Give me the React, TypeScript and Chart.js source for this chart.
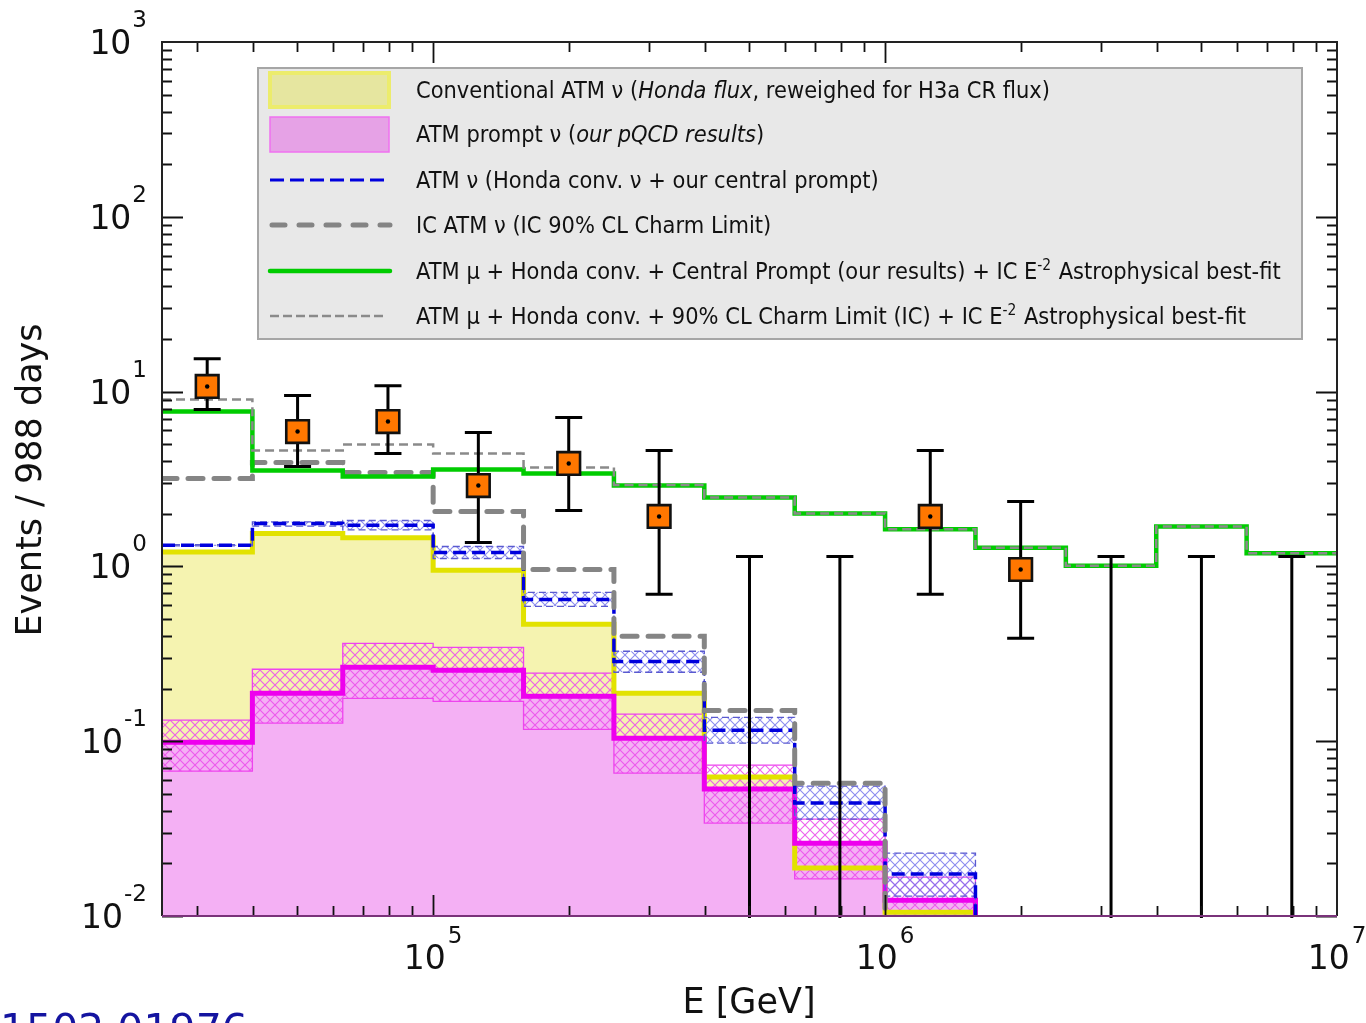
import React, { useEffect, useRef } from 'react';
import { Chart, registerables } from 'chart.js';

Chart.register(...registerables);

// ---- data ----
// bin edges in GeV (0.2-decade bins from 10^4.4 to 10^7)
const binEdges = [25119, 39811, 63096, 100000, 158489, 251189, 398107, 630957, 1000000, 1584893, 2511886, 3981072, 6309573, 10000000];

const conventional = [1.21, 1.54, 1.46, 0.95, 0.466, 0.188, 0.0623, 0.0188, 0.0105, 0, 0, 0, 0];
const promptCentral = [0.0987, 0.188, 0.265, 0.255, 0.181, 0.104, 0.0532, 0.0261, 0.0123, 0, 0, 0, 0];
const promptUpper = [0.132, 0.258, 0.363, 0.344, 0.245, 0.143, 0.0729, 0.0358, 0.0167, 0, 0, 0, 0];
const promptLower = [0.0674, 0.127, 0.176, 0.169, 0.117, 0.0656, 0.034, 0.0163, 0.009, 0, 0, 0, 0];
const atmNuCentral = [1.32, 1.76, 1.72, 1.2, 0.647, 0.286, 0.1156, 0.0443, 0.0174, 0, 0, 0, 0];
const atmNuUpper = [1.33, 1.8, 1.83, 1.3, 0.71, 0.327, 0.137, 0.0553, 0.0229, 0, 0, 0, 0];
const atmNuLower = [1.31, 1.7, 1.62, 1.11, 0.591, 0.248, 0.0975, 0.0358, 0.013, 0, 0, 0, 0];
const icAtmNu = [3.18, 3.93, 3.45, 2.06, 0.96, 0.398, 0.15, 0.0575, 0, 0, 0, 0, 0];
const totalCentral = [7.69, 3.54, 3.27, 3.58, 3.4, 2.9, 2.48, 2.01, 1.63, 1.28, 1.01, 1.69, 1.19];
const totalCharmLimit = [9.0, 4.6, 4.98, 4.42, 3.68, 2.92, 2.48, 2.01, 1.63, 1.28, 1.01, 1.69, 1.19];

const dataEnergy = [31623, 50119, 79433, 125893, 199526, 316228, 501187, 794328, 1258925, 1995262, 3162278, 5011872, 7943282];
const dataEvents = [10.7, 5.91, 6.74, 2.9, 3.88, 1.93, 0, 0, 1.93, 0.96, 0, 0, 0];
const dataErrHigh = [15.4, 9.49, 10.8, 5.83, 7.1, 4.6, 1.14, 1.14, 4.6, 2.35, 1.14, 1.14, 1.14];
const dataErrLow = [7.89, 3.73, 4.42, 1.37, 2.09, 0.692, 0, 0, 0.692, 0.388, 0, 0, 0];

const xTickExponents = [5, 6, 7];
const yTickExponents = [-2, -1, 0, 1, 2, 3];

const xTitle = 'E [GeV]';
const yTitle = 'Events / 988 days';
const footnote = '1502.01976';

type Seg = { t: string; it?: boolean; sup?: boolean };
const legendRows: Seg[][] = [
  [{ t: 'Conventional ATM \u03bd (' }, { t: 'Honda flux', it: true }, { t: ', reweighed for H3a CR flux)' }],
  [{ t: 'ATM prompt \u03bd (' }, { t: 'our pQCD results', it: true }, { t: ')' }],
  [{ t: 'ATM \u03bd (Honda conv. \u03bd + our central prompt)' }],
  [{ t: 'IC ATM \u03bd (IC 90% CL Charm Limit)' }],
  [{ t: 'ATM \u00b5 + Honda conv. + Central Prompt (our results) + IC E' }, { t: '-2', sup: true }, { t: ' Astrophysical best-fit' }],
  [{ t: 'ATM \u00b5 + Honda conv. + 90% CL Charm Limit (IC) + IC E' }, { t: '-2', sup: true }, { t: ' Astrophysical best-fit' }],
];

// ---- helpers ----
const ZERO_LEVEL = 1e-4; // empty bins drawn below the log axis floor

function toSteps(values: number[]) {
  // points at bin edges; with stepped: 'before' each value holds until the next edge
  const pts: { x: number; y: number }[] = [];
  for (let i = 0; i < values.length; i++) {
    if (values[i] > 0) pts.push({ x: binEdges[i], y: values[i] });
    else {
      pts.push({ x: binEdges[i], y: ZERO_LEVEL });
      return pts;
    }
  }
  pts.push({ x: binEdges[values.length], y: values[values.length - 1] });
  return pts;
}

function hatch(color: string) {
  const c = document.createElement('canvas');
  c.width = 10;
  c.height = 10;
  const g = c.getContext('2d')!;
  g.strokeStyle = color;
  g.lineWidth = 1.1;
  g.beginPath();
  g.moveTo(-1, -1);
  g.lineTo(11, 11);
  g.moveTo(11, -1);
  g.lineTo(-1, 11);
  g.stroke();
  return g.createPattern(c, 'repeat')!;
}

const FONT = '"DejaVu Sans", sans-serif';
const LFONT = '"DejaVu Sans", sans-serif';

function drawErrorBars(chart: any) {
  const { ctx, chartArea } = chart;
  const xs = chart.scales.x;
  const ys = chart.scales.y;
  ctx.save();
  ctx.strokeStyle = '#000';
  ctx.lineWidth = 3;
  ctx.beginPath();
  ctx.rect(chartArea.left, chartArea.top, chartArea.right - chartArea.left, chartArea.bottom - chartArea.top + 2);
  ctx.clip();
  for (let i = 0; i < dataEnergy.length; i++) {
    const px = xs.getPixelForValue(dataEnergy[i]);
    const top = ys.getPixelForValue(dataErrHigh[i]);
    const bot = dataErrLow[i] > 0 ? ys.getPixelForValue(dataErrLow[i]) : chartArea.bottom + 2;
    ctx.beginPath();
    ctx.moveTo(px, top);
    ctx.lineTo(px, bot);
    ctx.moveTo(px - 13.5, top);
    ctx.lineTo(px + 13.5, top);
    if (dataErrLow[i] > 0) {
      ctx.moveTo(px - 13.5, bot);
      ctx.lineTo(px + 13.5, bot);
    }
    ctx.stroke();
  }
  ctx.restore();
}

function drawFrame(chart: any) {
  const { ctx, chartArea } = chart;
  const { left, right, top, bottom } = chartArea;
  const xs = chart.scales.x;
  const ys = chart.scales.y;
  ctx.save();
  ctx.strokeStyle = '#111';
  ctx.lineWidth = 1.8;
  for (let e = yTickExponents[0]; e < yTickExponents[yTickExponents.length - 1]; e++) {
    for (let m = 1; m <= 9; m++) {
      const v = m * Math.pow(10, e);
      const py = Math.round(ys.getPixelForValue(v)) + 0.5;
      const len = m === 1 ? 21 : 10;
      ctx.beginPath();
      ctx.moveTo(left, py);
      ctx.lineTo(left + len, py);
      ctx.moveTo(right, py);
      ctx.lineTo(right - len, py);
      ctx.stroke();
    }
  }
  for (let e = 4; e < 7; e++) {
    for (let m = 1; m <= 9; m++) {
      const v = m * Math.pow(10, e);
      if (v <= xs.min || v >= xs.max) continue;
      const px = Math.round(xs.getPixelForValue(v)) + 0.5;
      const len = m === 1 ? 21 : 10;
      ctx.beginPath();
      ctx.moveTo(px, top);
      ctx.lineTo(px, top + len);
      ctx.moveTo(px, bottom);
      ctx.lineTo(px, bottom - len);
      ctx.stroke();
    }
  }
  ctx.lineWidth = 2;
  ctx.strokeStyle = '#222';
  ctx.beginPath();
  ctx.moveTo(left, bottom);
  ctx.lineTo(left, top);
  ctx.lineTo(right, top);
  ctx.lineTo(right, bottom);
  ctx.stroke();
  ctx.strokeStyle = '#7a327a';
  ctx.beginPath();
  ctx.moveTo(left, bottom);
  ctx.lineTo(right, bottom);
  ctx.stroke();
  ctx.restore();
}

function setLegendFont(ctx: any, size: number, italic: boolean) {
  ctx.font = `${italic ? 'italic ' : ''}${size}px ${LFONT}`;
}

function richWidth(ctx: CanvasRenderingContext2D, segs: Seg[], size: number) {
  let w = 0;
  for (const s of segs) {
    setLegendFont(ctx, s.sup ? size * 0.66 : size, !!s.it);
    w += ctx.measureText(s.t).width + (s.sup ? 1 : 0);
  }
  return w;
}

function drawRich(ctx: CanvasRenderingContext2D, segs: Seg[], x: number, y: number, size: number) {
  let cx = x;
  for (const s of segs) {
    const fs = s.sup ? size * 0.66 : size;
    setLegendFont(ctx, fs, !!s.it);
    ctx.fillText(s.t, cx, s.sup ? y - size * 0.42 : y);
    cx += ctx.measureText(s.t).width + (s.sup ? 1 : 0);
  }
  return cx - x;
}

function drawLabels(chart: any) {
  const { ctx, chartArea } = chart;
  const xs = chart.scales.x;
  const ys = chart.scales.y;
  ctx.save();
  ctx.fillStyle = '#111';
  ctx.textBaseline = 'alphabetic';
  ctx.textAlign = 'left';
  for (const e of yTickExponents) {
    const py = ys.getPixelForValue(Math.pow(10, e));
    ctx.font = `33px ${FONT}`;
    const bw = ctx.measureText('10').width;
    ctx.font = `23px ${FONT}`;
    const sup = String(e);
    const sw = ctx.measureText(sup).width;
    const bx = chartArea.left - 15 - sw - bw - 1;
    ctx.font = `33px ${FONT}`;
    ctx.fillText('10', bx, py + 12);
    ctx.font = `23px ${FONT}`;
    ctx.fillText(sup, bx + bw + 1, py - 15);
  }
  for (const e of xTickExponents) {
    const px = xs.getPixelForValue(Math.pow(10, e));
    ctx.font = `33px ${FONT}`;
    const bw = ctx.measureText('10').width;
    ctx.font = `23px ${FONT}`;
    const sup = String(e);
    const sw = ctx.measureText(sup).width;
    const bx = px - (bw + sw + 2) / 2;
    ctx.font = `33px ${FONT}`;
    ctx.fillText('10', bx, chartArea.bottom + 53);
    ctx.font = `23px ${FONT}`;
    ctx.fillText(sup, bx + bw + 2, chartArea.bottom + 27);
  }
  ctx.font = `35px ${FONT}`;
  ctx.textAlign = 'center';
  ctx.fillText(xTitle, 749, 1013);
  ctx.save();
  ctx.translate(41, 480);
  ctx.rotate(-Math.PI / 2);
  ctx.fillText(yTitle, 0, 0);
  ctx.restore();
  ctx.textAlign = 'left';
  ctx.fillStyle = '#1414a0';
  ctx.font = `41px ${FONT}`;
  ctx.fillText(footnote, 0, 1043);
  ctx.restore();
}

function drawLegend(chart: any) {
  const { ctx } = chart;
  ctx.save();
  const bx = 258, by = 68, bw = 1044, bh = 271;
  ctx.fillStyle = '#e8e8e8';
  ctx.fillRect(bx, by, bw, bh);
  ctx.strokeStyle = '#a6a6a6';
  ctx.lineWidth = 2;
  ctx.strokeRect(bx, by, bw, bh);
  const rowY = [90, 134, 180, 225, 271, 316];
  ctx.fillStyle = '#e6e6a0';
  ctx.fillRect(270, 73, 119, 34);
  ctx.strokeStyle = '#ecec6c';
  ctx.lineWidth = 4;
  ctx.strokeRect(270, 73, 119, 34);
  ctx.fillStyle = '#e6a2e6';
  ctx.fillRect(270, 117, 119, 35);
  ctx.strokeStyle = '#f070f0';
  ctx.lineWidth = 1.5;
  ctx.strokeRect(270, 117, 119, 35);
  ctx.lineCap = 'butt';
  ctx.strokeStyle = '#0000dd';
  ctx.lineWidth = 3;
  ctx.setLineDash([14, 6]);
  ctx.beginPath();
  ctx.moveTo(270, rowY[2]);
  ctx.lineTo(386, rowY[2]);
  ctx.stroke();
  ctx.strokeStyle = '#848484';
  ctx.lineWidth = 5;
  ctx.lineCap = 'round';
  ctx.setLineDash([13, 14]);
  ctx.beginPath();
  ctx.moveTo(272, rowY[3]);
  ctx.lineTo(390, rowY[3]);
  ctx.stroke();
  ctx.setLineDash([]);
  ctx.strokeStyle = '#00cc00';
  ctx.lineWidth = 4.5;
  ctx.beginPath();
  ctx.moveTo(270, rowY[4]);
  ctx.lineTo(390, rowY[4]);
  ctx.stroke();
  ctx.lineCap = 'butt';
  ctx.strokeStyle = '#8a8a8a';
  ctx.lineWidth = 2.5;
  ctx.setLineDash([9, 4]);
  ctx.beginPath();
  ctx.moveTo(270, rowY[5]);
  ctx.lineTo(386, rowY[5]);
  ctx.stroke();
  ctx.setLineDash([]);
  // texts: condensed look emulated by a horizontal squeeze
  ctx.fillStyle = '#111';
  ctx.textAlign = 'left';
  ctx.textBaseline = 'alphabetic';
  const size = 23.5;
  const sx = 634 / richWidth(ctx, legendRows[0], size);
  legendRows.forEach((row, i) => {
    ctx.save();
    ctx.translate(416, rowY[i] + size * 0.36);
    ctx.scale(sx, 1);
    drawRich(ctx, row, 0, 0, size);
    ctx.restore();
  });
  ctx.restore();
}

export default function App() {
  const ref = useRef<HTMLCanvasElement | null>(null);
  useEffect(() => {
    if (!ref.current) return;
    const magHatch = hatch('rgba(236,80,236,0.9)');
    const blueHatch = hatch('rgba(120,120,235,0.85)');
    const hist = (values: number[], extra: any) => ({
      type: 'line',
      data: toSteps(values),
      stepped: 'before',
      pointRadius: 0,
      pointHoverRadius: 0,
      fill: false,
      ...extra,
    });
    const pointData = dataEnergy
      .map((x, i) => (dataEvents[i] > 0 ? { x, y: dataEvents[i] } : null))
      .filter((p) => p !== null);
    const datasets: any[] = [
      hist(conventional, { label: 'conv fill', fill: 'start', backgroundColor: '#f5f3b0', borderWidth: 0, order: 100 }),
      hist(promptCentral, { label: 'prompt fill', fill: 'start', backgroundColor: '#f4b0f4', borderWidth: 0, order: 90 }),
      hist(promptUpper, { label: 'prompt up', fill: '+1', backgroundColor: magHatch, borderColor: '#ee44ee', borderWidth: 1.3, order: 80 }),
      hist(promptLower, { label: 'prompt lo', borderColor: '#ee44ee', borderWidth: 1.3, order: 79 }),
      hist(conventional, { label: 'Conventional ATM nu', borderColor: '#e2e200', borderWidth: 5, order: 70 }),
      hist(promptCentral, { label: 'ATM prompt nu', borderColor: '#ee00ee', borderWidth: 5, order: 60 }),
      hist(atmNuUpper, { label: 'atm up', fill: '+1', backgroundColor: blueHatch, borderColor: '#5a5ad0', borderWidth: 1.3, borderDash: [7, 4], order: 50 }),
      hist(atmNuLower, { label: 'atm lo', borderColor: '#5a5ad0', borderWidth: 1.3, borderDash: [7, 4], order: 49 }),
      hist(atmNuCentral, { label: 'ATM nu', borderColor: '#0000dd', borderWidth: 3.5, borderDash: [13, 6], order: 40 }),
      hist(icAtmNu, { label: 'IC ATM nu', borderColor: '#858585', borderWidth: 5, borderDash: [15, 11], borderCapStyle: 'round', order: 30 }),
      hist(totalCentral, { label: 'total central', borderColor: '#00cc00', borderWidth: 4.5, order: 20 }),
      hist(totalCharmLimit, { label: 'total charm limit', borderColor: '#8a8a8a', borderWidth: 2.5, borderDash: [9, 5], order: 10 }),
      {
        type: 'line',
        label: 'data',
        data: pointData,
        showLine: false,
        pointStyle: 'rect',
        pointRadius: 16,
        pointHoverRadius: 16,
        pointBackgroundColor: '#ff7700',
        pointBorderColor: '#111',
        pointBorderWidth: 2.6,
        order: 1,
      },
      {
        type: 'line',
        label: 'data centre',
        data: pointData,
        showLine: false,
        pointStyle: 'circle',
        pointRadius: 2.2,
        pointHoverRadius: 2.2,
        pointBackgroundColor: '#000',
        pointBorderWidth: 0,
        order: 0,
      },
    ];
    const POINTS_INDEX = 12;
    const overlay = {
      id: 'overlay',
      beforeDatasetDraw(chart: any, args: any) {
        if (args.index === POINTS_INDEX) drawErrorBars(chart);
      },
      afterDatasetsDraw(chart: any) {
        drawFrame(chart);
      },
      afterDraw(chart: any) {
        drawLabels(chart);
        drawLegend(chart);
      },
    };
    const chart = new Chart(ref.current, {
      type: 'line',
      data: { datasets },
      options: {
        animation: false,
        responsive: false,
        devicePixelRatio: 1,
        layout: { padding: { left: 162, right: 29, top: 42, bottom: 107 } },
        plugins: {
          legend: { display: false },
          tooltip: { enabled: false },
          filler: { propagate: false },
        },
        events: [],
        scales: {
          x: { type: 'logarithmic', min: binEdges[0], max: binEdges[binEdges.length - 1], display: false },
          y: { type: 'logarithmic', min: 0.01, max: 1000, display: false },
        },
      } as any,
      plugins: [overlay],
    });
    return () => chart.destroy();
  }, []);
  return (
    <div style={{ position: 'fixed', left: 0, top: 0, width: 1366, height: 1023, background: '#fff' }}>
      <canvas ref={ref} width={1366} height={1023} style={{ display: 'block' }} />
    </div>
  );
}
